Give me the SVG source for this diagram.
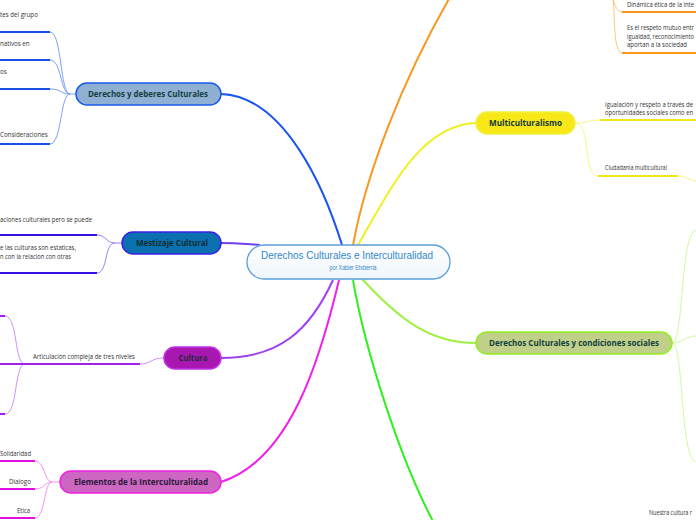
<svg xmlns="http://www.w3.org/2000/svg" width="696" height="520" viewBox="0 0 696 520">
<defs>
<linearGradient id="cg" x1="0" y1="0" x2="0" y2="1">
<stop offset="0" stop-color="#ffffff"/>
<stop offset="1" stop-color="#eef6fc"/>
</linearGradient>
</defs>
<style>
.lbl{font-family:"Open Sans","Noto Sans","Liberation Sans",sans-serif;font-weight:bold;font-size:8px;text-anchor:middle}
.t{font-family:"Open Sans","Noto Sans","Liberation Sans",sans-serif;font-size:6.2px;fill:#333}
.c{fill:none}
.u{fill:none;stroke-width:2}
</style>
<rect width="696" height="520" fill="#ffffff"/>
<g id="connectors">
<path class="c" d="M342,245 C325,190 285,96 221,94" stroke="#1a55f0" stroke-width="2"/>
<path class="c" d="M260,245 C245,244 235,243 221,243" stroke="#7040f0" stroke-width="2"/>
<path class="c" d="M333,280 C310,330 280,358 221,358" stroke="#a040f0" stroke-width="2"/>
<path class="c" d="M339,280 C320,360 290,460 221,482" stroke="#f020e8" stroke-width="2"/>
<path class="c" d="M353,245 C365,180 400,80 460,-20" stroke="#f89820" stroke-width="2"/>
<path class="c" d="M358,245 C390,190 420,125 476,123" stroke="#f0f020" stroke-width="2"/>
<path class="c" d="M362,279 C400,320 430,343 476,343" stroke="#a0f040" stroke-width="2"/>
<path class="c" d="M353,280 C365,350 400,460 435,525" stroke="#30f020" stroke-width="2"/>
<g stroke="#7aa0f8" stroke-width="1" fill="none">
<path d="M76,94 L70,94 C60,94 62,32 50,32"/>
<path d="M70,94 C60,94 62,60 50,60"/>
<path d="M70,94 C60,94 62,89 50,89"/>
<path d="M70,94 C60,94 62,144 50,144"/>
</g>
<g stroke="#1a50e8" class="u">
<path d="M0,32 H50"/><path d="M0,60 H50"/><path d="M0,89 H50"/><path d="M0,144 H50"/>
</g>
<g stroke="#9a80f8" stroke-width="1" fill="none">
<path d="M122,243 L115,243 C106,243 106,235 97,235"/>
<path d="M115,243 C104,243 108,273 97,273"/>
</g>
<g stroke="#3810e0" class="u">
<path d="M0,235 H97"/><path d="M0,273 H97"/>
</g>
<g stroke="#d090f8" stroke-width="1" fill="none">
<path d="M164,358 C150,358 152,364 140,364"/>
<path d="M25,364 C14,364 18,316 5,316"/>
<path d="M25,364 C14,364 18,414 5,414"/>
</g>
<g stroke="#a020e8" class="u">
<path d="M25,364 H140"/><path d="M0,364 H25"/><path d="M0,316 H5"/><path d="M0,414 H5"/>
</g>
<g stroke="#f890f0" stroke-width="1" fill="none">
<path d="M60,482 L52,482 C44,482 45,461 35,461"/>
<path d="M52,482 C44,482 45,489 35,489"/>
<path d="M52,482 C44,482 45,518 35,518"/>
</g>
<g stroke="#e010e0" class="u">
<path d="M0,461 H35"/><path d="M0,489 H35"/><path d="M0,518 H35"/>
</g>
<g stroke="#fcc880" stroke-width="1" fill="none">
<path d="M608,-20 C614,-8 612,12 623,12"/>
<path d="M609,-20 C618,0 610,53 623,53"/>
</g>
<g stroke="#f89818" class="u">
<path d="M622,12 H696"/><path d="M622,53 H696"/>
</g>
<g stroke="#f8f880" stroke-width="1" fill="none">
<path d="M575,123 C590,123 588,120 600,120"/>
<path d="M575,123 C592,123 582,176 598,176"/>
<path d="M678,176 C686,176 688,180 696,181"/>
</g>
<g stroke="#f0e818" class="u">
<path d="M600,120 H696"/><path d="M598,176 H678"/>
</g>
<g stroke="#d0f8a0" stroke-width="1" fill="none">
<path d="M672,343 C684,343 680,233 696,230"/>
<path d="M672,343 C682,343 686,336 696,336"/>
<path d="M672,343 C684,343 680,460 696,462"/>
</g>
</g>
<g id="center">
<rect x="247" y="245" width="203" height="34" rx="17" fill="url(#cg)" stroke="#5a9fd8" stroke-width="1.3"/>
<text x="347" y="259" font-family="'Liberation Sans',Arial,sans-serif" font-size="10.5" fill="#3587c4" text-anchor="middle" textLength="172" lengthAdjust="spacingAndGlyphs">Derechos Culturales e Interculturalidad</text>
<text x="353" y="270" font-family="'Liberation Sans',Arial,sans-serif" font-size="6.5" fill="#3587c4" text-anchor="middle" textLength="47" lengthAdjust="spacingAndGlyphs">por Xabier Etxberria</text>
</g>
<g id="n-derechos-deberes">
<rect x="76" y="83" width="145" height="22" rx="11" fill="#8fb0d2" stroke="#1a5ae8" stroke-width="1.5"/>
<text class="lbl" x="148" y="97" fill="#12403e" textLength="120" lengthAdjust="spacingAndGlyphs">Derechos y deberes Culturales</text>
<text class="t" x="0" y="17">tes del grupo</text>
<text class="t" x="0" y="46">nativos en</text>
<text class="t" x="0" y="74">os</text>
<text class="t" x="0" y="137">Consideraciones</text>
</g>
<g id="n-mestizaje">
<rect x="122" y="232" width="99" height="22" rx="11" fill="#0a70b0" stroke="#3a20e8" stroke-width="1.5"/>
<text class="lbl" x="172" y="246" fill="#0f2f30" textLength="72" lengthAdjust="spacingAndGlyphs">Mestizaje Cultural</text>
<text class="t" x="0" y="222" textLength="92" lengthAdjust="spacingAndGlyphs">aciones culturales pero se puede</text>
<text class="t" x="0" y="250" textLength="76" lengthAdjust="spacingAndGlyphs">e las culturas son estaticas,</text>
<text class="t" x="0" y="259" textLength="71" lengthAdjust="spacingAndGlyphs">n con la relacion con otras</text>
</g>
<g id="n-cultura">
<rect x="164" y="347" width="57" height="22" rx="11" fill="#a818b0" stroke="#c030e8" stroke-width="1.5"/>
<text class="lbl" x="193" y="361" fill="#1f2a3a" textLength="29" lengthAdjust="spacingAndGlyphs">Cultura</text>
<text class="t" x="33" y="359" textLength="102" lengthAdjust="spacingAndGlyphs">Articulación compleja de tres niveles</text>
</g>
<g id="n-elementos">
<rect x="60" y="471" width="161" height="22" rx="11" fill="#cc66c0" stroke="#f020e0" stroke-width="1.5"/>
<text class="lbl" x="141" y="485" fill="#2a1a3a" textLength="134" lengthAdjust="spacingAndGlyphs">Elementos de la Interculturalidad</text>
<text class="t" x="0" y="456" textLength="31" lengthAdjust="spacingAndGlyphs">Solidaridad</text>
<text class="t" x="9" y="484" textLength="22" lengthAdjust="spacingAndGlyphs">Dialogo</text>
<text class="t" x="17" y="513" textLength="13" lengthAdjust="spacingAndGlyphs">Etica</text>
</g>
<g id="n-orange-children">
<text class="t" x="627" y="7" textLength="67" lengthAdjust="spacingAndGlyphs">Dinámica ética de la inte</text>
<text class="t" x="627" y="30" textLength="67" lengthAdjust="spacingAndGlyphs">Es el respeto mutuo entr</text>
<text class="t" x="627" y="38.5" textLength="67" lengthAdjust="spacingAndGlyphs">igualdad, reconocimiento</text>
<text class="t" x="627" y="47" textLength="60" lengthAdjust="spacingAndGlyphs">aportan a la sociedad</text>
</g>
<g id="n-multiculturalismo">
<rect x="476" y="112" width="99" height="22" rx="11" fill="#f8e818" stroke="#f0f040" stroke-width="1.5"/>
<text class="lbl" x="525.5" y="126" fill="#123a3a" textLength="73" lengthAdjust="spacingAndGlyphs">Multiculturalismo</text>
<text class="t" x="605" y="107" textLength="88" lengthAdjust="spacingAndGlyphs">Igualación y respeto a través de</text>
<text class="t" x="605" y="115" textLength="88" lengthAdjust="spacingAndGlyphs">oportunidades sociales como en</text>
<text class="t" x="605" y="170" textLength="62" lengthAdjust="spacingAndGlyphs">Ciudadania multicultural</text>
</g>
<g id="n-condiciones">
<rect x="476" y="332" width="196" height="22" rx="11" fill="#c0d088" stroke="#90f020" stroke-width="1.5"/>
<text class="lbl" x="574" y="346" fill="#104040" textLength="170" lengthAdjust="spacingAndGlyphs">Derechos Culturales y condiciones sociales</text>
</g>
<g id="n-bottom-right">
<text class="t" x="649" y="515" textLength="43" lengthAdjust="spacingAndGlyphs">Nuestra cultura r</text>
</g>
</svg>
